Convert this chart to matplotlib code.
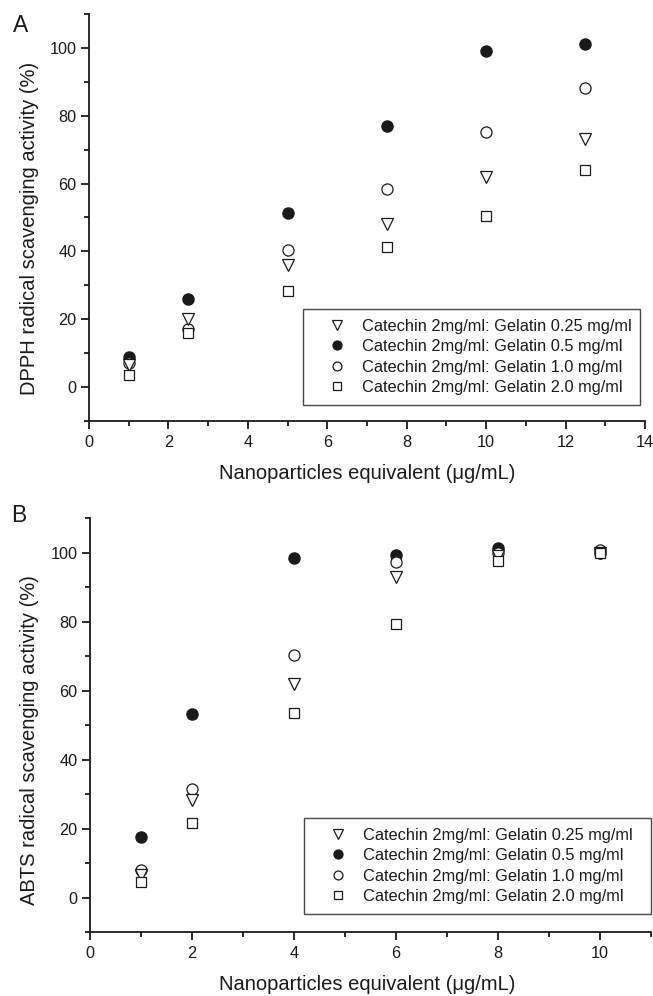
import matplotlib
matplotlib.use("Agg")
import matplotlib.pyplot as plt
from matplotlib.ticker import MultipleLocator

plt.rcParams['font.family'] = ['Liberation Sans', 'DejaVu Sans']

# ---------------- data ----------------
labels = ["Catechin 2mg/ml: Gelatin 0.25 mg/ml",
          "Catechin 2mg/ml: Gelatin 0.5 mg/ml",
          "Catechin 2mg/ml: Gelatin 1.0 mg/ml",
          "Catechin 2mg/ml: Gelatin 2.0 mg/ml"]

# Panel A (DPPH)
x_a = [1, 2.5, 5, 7.5, 10, 12.5]
dpph_025 = [6.5, 20.2, 35.9, 48.0, 62.0, 73.0]
dpph_05 = [8.8, 26.0, 51.2, 77.1, 99.2, 101.2]
dpph_10 = [7.0, 17.0, 40.5, 58.3, 75.2, 88.2]
dpph_20 = [3.5, 15.8, 28.4, 41.4, 50.5, 63.9]

# Panel B (ABTS)
x_b = [1, 2, 4, 6, 8, 10]
abts_025 = [6.5, 28.4, 61.9, 93.0, 99.0, 100.0]
abts_05 = [17.6, 53.3, 98.3, 99.4, 101.2, 100.0]
abts_10 = [7.9, 31.5, 70.4, 97.3, 99.8, 100.6]
abts_20 = [4.4, 21.6, 53.5, 79.3, 97.5, 100.0]

xlabel = "Nanoparticles equivalent (\u03bcg/mL)"
ylabel_a = "DPPH radical scavenging activity (%)"
ylabel_b = "ABTS radical scavenging activity (%)"

W, H = 653, 996
fig = plt.figure(figsize=(W / 100, H / 100), dpi=100)

C = '#1a1a1a'

def px_axes(l, t, r, b):
    return fig.add_axes([l / W, 1 - b / H, (r - l) / W, (b - t) / H])

def style(ax, xmax, xmajor):
    ax.set_xlim(0, xmax)
    ax.set_ylim(-10, 110)
    ax.spines['top'].set_visible(False)
    ax.spines['right'].set_visible(False)
    for s in ('left', 'bottom'):
        ax.spines[s].set_linewidth(1.3)
        ax.spines[s].set_color(C)
    ax.xaxis.set_major_locator(MultipleLocator(xmajor))
    ax.xaxis.set_minor_locator(MultipleLocator(1))
    ax.yaxis.set_major_locator(MultipleLocator(20))
    ax.yaxis.set_minor_locator(MultipleLocator(10))
    ax.set_yticks([0, 20, 40, 60, 80, 100])
    ax.tick_params(which='major', direction='out', length=6, width=1.3,
                   color=C, labelsize=11.7, labelcolor=C, pad=3)
    ax.tick_params(axis='x', which='major', pad=4)
    ax.tick_params(which='minor', direction='out', length=3.5, width=1.3, color=C)

def draw(ax, x, s025, s05, s10, s20):
    h1, = ax.plot(x, s05, 'o', ms=8, mfc=C, mec=C, mew=1.0, ls='none', label=labels[1])
    h2, = ax.plot(x, s10, 'o', ms=8, mfc='white', mec=C, mew=0.9, ls='none', label=labels[2])
    h0, = ax.plot(x, s025, 'v', ms=9, mfc='white', mec=C, mew=0.9, ls='none', label=labels[0])
    h3, = ax.plot(x, s20, 's', ms=7, mfc='white', mec=C, mew=0.9, ls='none', label=labels[3])
    return [h0, h1, h2, h3]

def add_legend(ax, handles, l, t, r, b):
    leg = ax.legend(handles, labels, loc='upper left',
                    bbox_to_anchor=(l / W, 1 - b / H, (r - l) / W, (b - t) / H),
                    bbox_transform=fig.transFigure, mode='expand',
                    fontsize=11.8, frameon=True, fancybox=False,
                    edgecolor=C, borderpad=0.58, labelspacing=0.34,
                    handlelength=2.95, handletextpad=0.1, markerscale=0.8,
                    borderaxespad=0)
    leg.get_frame().set_linewidth(1.0)
    for t_ in leg.get_texts():
        t_.set_color(C)
    return leg

LABEL_FS = 14.5

# ---------------- Panel A ----------------
axA = px_axes(89, 14, 645, 421)
style(axA, 14, 2)
hA = draw(axA, x_a, dpph_025, dpph_05, dpph_10, dpph_20)
axA.set_xlabel(xlabel, fontsize=LABEL_FS, color=C)
axA.set_ylabel(ylabel_a, fontsize=LABEL_FS, color=C)
axA.xaxis.set_label_coords((367 - 89) / 556, 1 - (464 - 14) / 407)
axA.yaxis.set_label_coords((39 - 89) / 556, (421 - 228) / 407)
add_legend(axA, hA, 303, 309, 640, 404)
fig.text(21 / W, 1 - 26 / H, "A", fontsize=16.5, color=C, va='center', ha='center')

# ---------------- Panel B ----------------
axB = px_axes(90, 518, 651, 932)
style(axB, 11, 2)
axB.set_xticks([0, 2, 4, 6, 8, 10])
hB = draw(axB, x_b, abts_025, abts_05, abts_10, abts_20)
axB.set_xlabel(xlabel, fontsize=LABEL_FS, color=C)
axB.set_ylabel(ylabel_b, fontsize=LABEL_FS, color=C)
axB.xaxis.set_label_coords((367 - 90) / 561, 1 - (975 - 518) / 414)
axB.yaxis.set_label_coords((39 - 90) / 561, (932 - 740) / 414)
add_legend(axB, hB, 304, 818, 651, 917)
fig.text(19 / W, 1 - 516 / H, "B", fontsize=16.5, color=C, va='center', ha='center')

fig.savefig("out.png", dpi=100)
